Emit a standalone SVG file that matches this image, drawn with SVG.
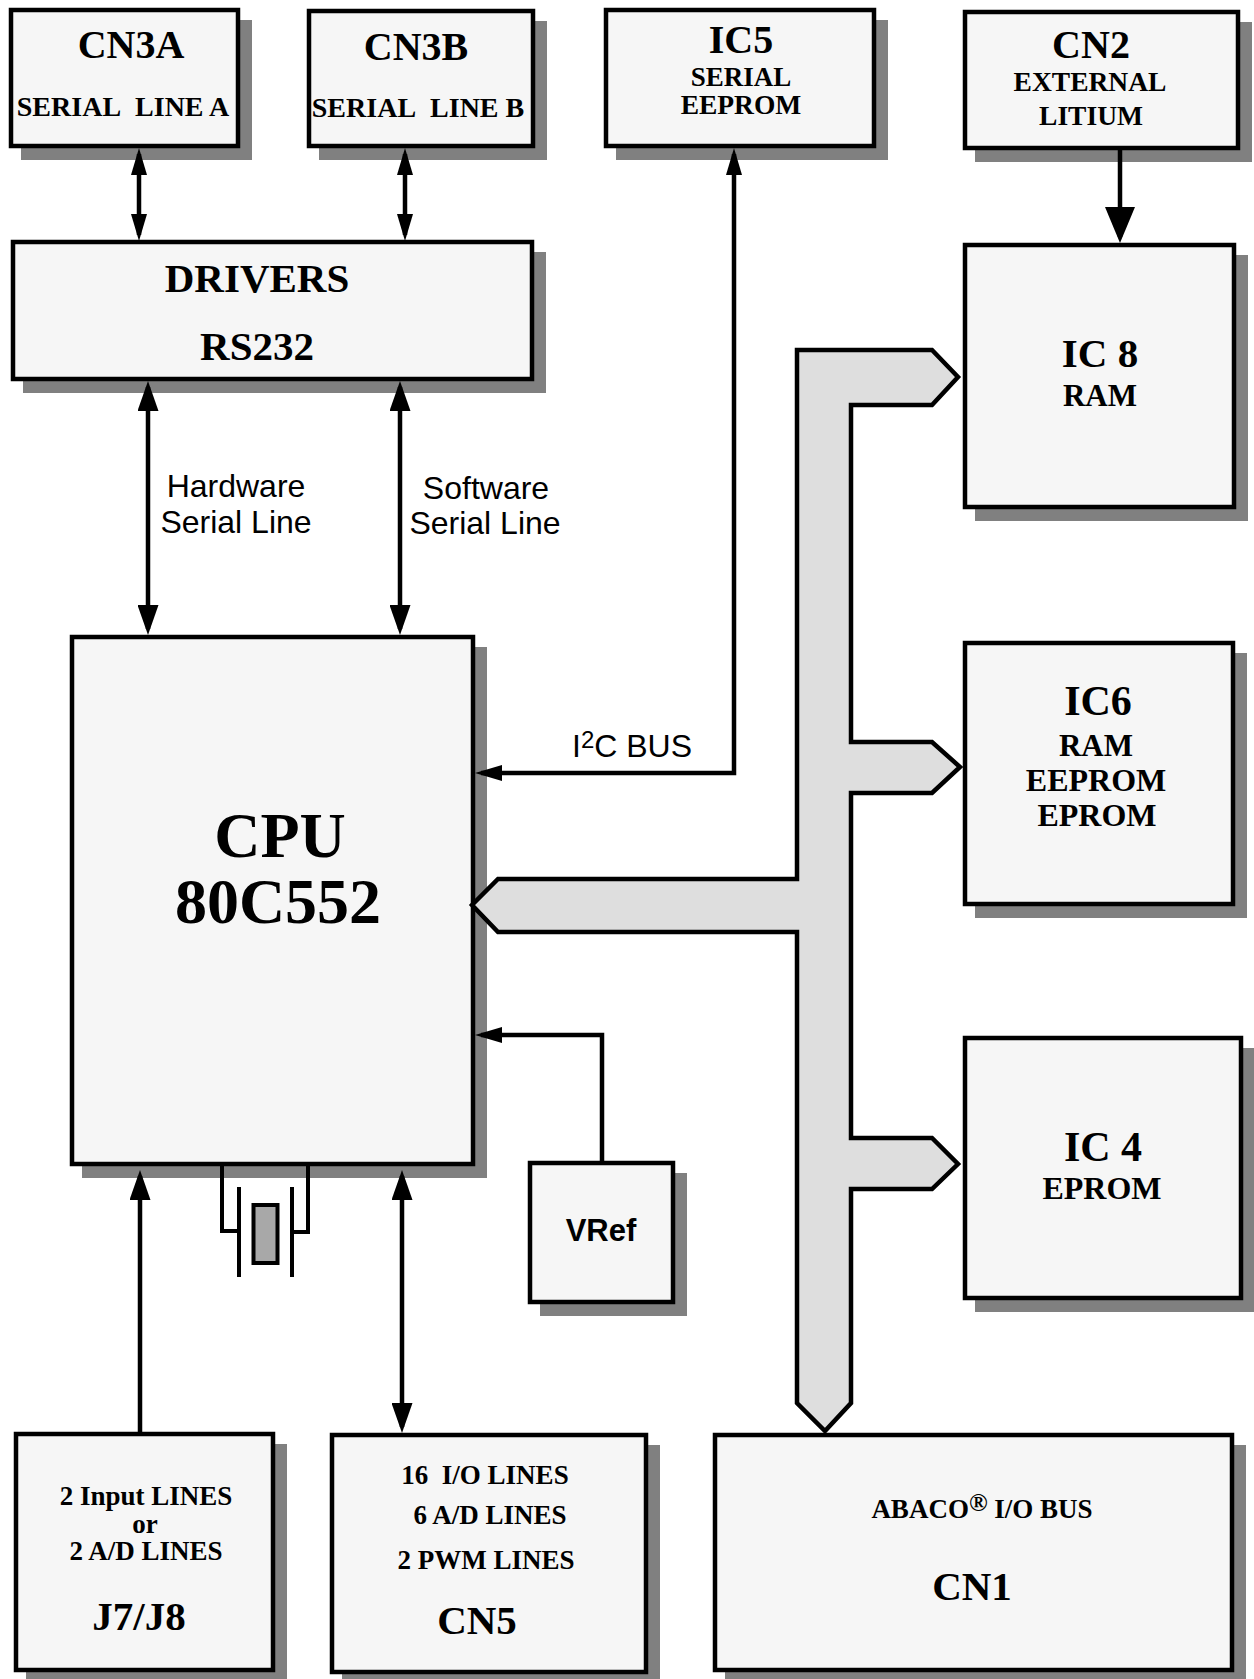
<svg xmlns="http://www.w3.org/2000/svg" width="1254" height="1679" viewBox="0 0 1254 1679">
<style>
.shadow{fill:#808080;stroke:none}
.box{fill:#f6f6f6;stroke:#000;stroke-width:4.5}
.t{font-family:"Liberation Serif","Times New Roman",serif;font-weight:bold;text-anchor:middle;fill:#000}
.s{font-family:"Liberation Sans",Arial,sans-serif;text-anchor:middle;fill:#000}
.sb{font-family:"Liberation Sans",Arial,sans-serif;font-weight:bold;text-anchor:middle;fill:#000}
.c{fill:none;stroke:#000;stroke-width:4.5}
.bus{fill:#dedede;stroke:#000;stroke-width:4.5;stroke-linejoin:miter}
.xt{fill:none;stroke:#000;stroke-width:4}
</style>
<defs>
<marker id="arrS" markerUnits="userSpaceOnUse" viewBox="0 0 27 16" refX="21" refY="8" markerWidth="27" markerHeight="16" orient="auto-start-reverse"><path d="M0,0 L27,8 L0,16 z" fill="#000"/></marker>
<marker id="arrM" markerUnits="userSpaceOnUse" viewBox="0 0 30 21" refX="24" refY="10.5" markerWidth="30" markerHeight="21" orient="auto-start-reverse"><path d="M0,0 L30,10.5 L0,21 z" fill="#000"/></marker>
<marker id="arrL" markerUnits="userSpaceOnUse" viewBox="0 0 36 30" refX="30" refY="15" markerWidth="36" markerHeight="30" orient="auto-start-reverse"><path d="M0,0 L36,15 L0,30 z" fill="#000"/></marker>
</defs>
<rect width="1254" height="1679" fill="#fff"/>

<g id="CN3A">
<rect class="shadow" x="21" y="20" width="231" height="140"/>
<rect class="box" x="11" y="10" width="227" height="136"/>
<text class="t" x="131" y="58" font-size="40">CN3A</text>
<text class="t" x="123" y="116" font-size="28">SERIAL&#160; LINE A</text>
</g>
<g id="CN3B">
<rect class="shadow" x="319" y="21" width="228" height="139"/>
<rect class="box" x="309" y="11" width="224" height="135"/>
<text class="t" x="416" y="60" font-size="40">CN3B</text>
<text class="t" x="418" y="117" font-size="28">SERIAL&#160; LINE B</text>
</g>
<g id="IC5">
<rect class="shadow" x="616" y="20" width="272" height="140"/>
<rect class="box" x="606" y="10" width="268" height="136"/>
<text class="t" x="741" y="53" font-size="40">IC5</text>
<text class="t" x="741" y="86" font-size="27">SERIAL</text>
<text class="t" x="741" y="114" font-size="27.5">EEPROM</text>
</g>
<g id="CN2">
<rect class="shadow" x="975" y="22" width="277" height="140"/>
<rect class="box" x="965" y="12" width="273" height="136"/>
<text class="t" x="1091" y="58" font-size="40">CN2</text>
<text class="t" x="1090" y="91" font-size="27.5">EXTERNAL</text>
<text class="t" x="1091" y="125" font-size="27.5">LITIUM</text>
</g>
<g id="DRIVERS">
<rect class="shadow" x="23" y="252" width="523" height="141"/>
<rect class="box" x="13" y="242" width="519" height="137"/>
<text class="t" x="257" y="292" font-size="41">DRIVERS</text>
<text class="t" x="257" y="360" font-size="41">RS232</text>
</g>
<g id="IC8">
<rect class="shadow" x="975" y="255" width="273" height="266"/>
<rect class="box" x="965" y="245" width="269" height="262"/>
<text class="t" x="1100" y="367" font-size="41">IC 8</text>
<text class="t" x="1100" y="406" font-size="31">RAM</text>
</g>
<g id="CPU">
<rect class="shadow" x="82" y="647" width="405" height="531"/>
<rect class="box" x="72" y="637" width="401" height="527"/>
<text class="t" x="280" y="857" font-size="64">CPU</text>
<text class="t" x="278" y="923" font-size="64">80C552</text>
</g>
<g id="IC6">
<rect class="shadow" x="975" y="653" width="272" height="265"/>
<rect class="box" x="965" y="643" width="268" height="261"/>
<text class="t" x="1098" y="715" font-size="42">IC6</text>
<text class="t" x="1096" y="756" font-size="31">RAM</text>
<text class="t" x="1096" y="791" font-size="32">EEPROM</text>
<text class="t" x="1097" y="826" font-size="32">EPROM</text>
</g>
<g id="IC4">
<rect class="shadow" x="975" y="1048" width="280" height="264"/>
<rect class="box" x="965" y="1038" width="276" height="260"/>
<text class="t" x="1103" y="1161" font-size="42">IC 4</text>
<text class="t" x="1102" y="1199" font-size="32">EPROM</text>
</g>
<g id="VRef">
<rect class="shadow" x="540" y="1173" width="147" height="143"/>
<rect class="box" x="530" y="1163" width="143" height="139"/>
<text class="sb" x="601" y="1241" font-size="31">VRef</text>
</g>
<g id="J7J8">
<rect class="shadow" x="26" y="1444" width="261" height="240"/>
<rect class="box" x="16" y="1434" width="257" height="236"/>
<text class="t" x="146" y="1505" font-size="27">2 Input LINES</text>
<text class="t" x="145" y="1533" font-size="27">or</text>
<text class="t" x="146" y="1560" font-size="27">2 A/D LINES</text>
<text class="t" x="139" y="1630" font-size="41">J7/J8</text>
</g>
<g id="CN5">
<rect class="shadow" x="342" y="1445" width="318" height="241"/>
<rect class="box" x="332" y="1435" width="314" height="237"/>
<text class="t" x="485" y="1484" font-size="27">16&#160; I/O LINES</text>
<text class="t" x="490" y="1524" font-size="27">6 A/D LINES</text>
<text class="t" x="486" y="1569" font-size="27">2 PWM LINES</text>
<text class="t" x="477" y="1634" font-size="41">CN5</text>
</g>
<g id="CN1">
<rect class="shadow" x="725" y="1445" width="521" height="239"/>
<rect class="box" x="715" y="1435" width="517" height="235"/>
<text class="t" x="982" y="1518" font-size="27">ABACO<tspan font-size="25" dy="-7">®</tspan><tspan dy="7"> I/O BUS</tspan></text>
<text class="t" x="972" y="1600" font-size="41">CN1</text>
</g>

<g id="crystal">
<polyline class="xt" points="222,1165 222,1231 239,1231"/>
<polyline class="xt" points="308,1165 308,1232 292,1232"/>
<line class="xt" x1="239" y1="1187" x2="239" y2="1277"/>
<line class="xt" x1="292" y1="1187" x2="292" y2="1277"/>
<rect x="253.5" y="1205" width="24" height="58" fill="#a8a8a8" stroke="#000" stroke-width="4"/>
</g>

<g id="connectors">
<path id="bus" class="bus" d="M797,350 L932,350 L958,377 L932,405 L851,405 L851,742 L932,742 L960,767 L932,793 L851,793 L851,1138 L932,1138 L958,1164 L932,1189 L851,1189 L851,1403 L825,1431 L797,1403 L797,932 L498,932 L472,905 L498,879 L797,879 Z"/>
<line class="c" x1="139" y1="154" x2="139" y2="235" marker-start="url(#arrS)" marker-end="url(#arrS)"/>
<line class="c" x1="405" y1="154" x2="405" y2="235" marker-start="url(#arrS)" marker-end="url(#arrS)"/>
<line class="c" x1="148" y1="387" x2="148" y2="629" marker-start="url(#arrM)" marker-end="url(#arrM)"/>
<line class="c" x1="400" y1="387" x2="400" y2="629" marker-start="url(#arrM)" marker-end="url(#arrM)"/>
<path class="c" d="M481,773 H734 V154" marker-start="url(#arrS)" marker-end="url(#arrS)"/>
<line class="c" x1="1120" y1="150" x2="1120" y2="237" marker-end="url(#arrL)"/>
<path class="c" d="M602,1163 V1035 H481" marker-end="url(#arrS)"/>
<line class="c" x1="140" y1="1434" x2="140" y2="1176" marker-end="url(#arrM)"/>
<line class="c" x1="402" y1="1176" x2="402" y2="1427" marker-start="url(#arrM)" marker-end="url(#arrM)"/>
<text class="s" x="236" y="497" font-size="32">Hardware</text>
<text class="s" x="236" y="533" font-size="32">Serial Line</text>
<text class="s" x="486" y="499" font-size="32">Software</text>
<text class="s" x="485" y="534" font-size="32">Serial Line</text>
<text class="s" x="572" y="757" font-size="32" style="text-anchor:start">I<tspan font-size="24" dy="-9">2</tspan><tspan dy="9">C BUS</tspan></text>
</g>
</svg>
